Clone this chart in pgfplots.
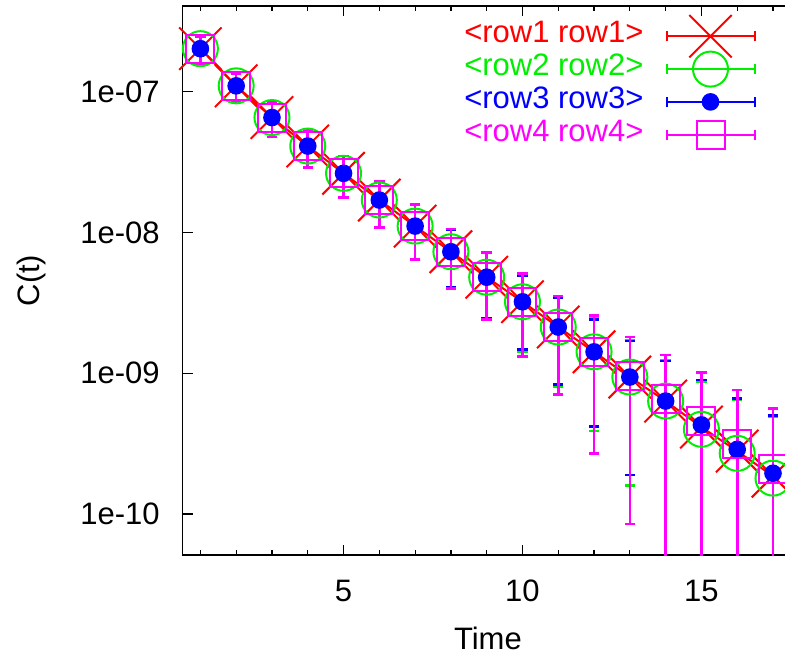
\documentclass[border=0pt]{standalone}
\usepackage{fontspec}
\setmainfont{Liberation Sans}
\usepackage{pgfplots}
\pgfplotsset{compat=1.18}
\usepackage{pgfplotstable}

\definecolor{gred}{RGB}{255,0,0}
\definecolor{ggreen}{RGB}{0,238,0}
\definecolor{gblue}{RGB}{0,0,255}
\definecolor{gmag}{RGB}{255,0,255}

\pgfplotstableread{
x y ep em
1 2.02e-7 4.3e-8 4.3e-8
2 1.10e-7 2.5e-8 2.5e-8
3 6.55e-8 1.8e-8 1.8e-8
4 4.11e-8 1.23e-8 1.23e-8
5 2.63e-8 8.6e-9 8.6e-9
6 1.70e-8 6.1e-9 6.1e-9
7 1.11e-8 4.7e-9 4.7e-9
8 7.30e-9 3.2e-9 3.2e-9
9 4.81e-9 2.35e-9 2.35e-9
10 3.22e-9 1.8e-9 1.8e-9
11 2.13e-9 1.33e-9 1.33e-9
12 1.42e-9 1.03e-9 1.03e-9
13 9.4e-10 7.8e-10 7.8e-10
14 6.35e-10 6.0e-10 6.0e-10
15 4.15e-10 4.7e-10 4.05e-10
16 2.80e-10 3.8e-10 2.70e-10
17 1.86e-10 3.1e-10 1.76e-10
}\rowone

\pgfplotstableread{
x y ep em
1 2.02e-7 4.3e-8 4.3e-8
2 1.10e-7 2.5e-8 2.5e-8
3 6.55e-8 1.8e-8 1.8e-8
4 4.11e-8 1.23e-8 1.23e-8
5 2.63e-8 8.6e-9 8.6e-9
6 1.70e-8 6.1e-9 6.1e-9
7 1.11e-8 4.7e-9 4.7e-9
8 7.30e-9 3.2e-9 3.2e-9
9 4.81e-9 2.35e-9 2.35e-9
10 3.22e-9 1.8e-9 1.8e-9
11 2.13e-9 1.33e-9 1.33e-9
12 1.42e-9 1.03e-9 1.03e-9
13 9.4e-10 7.8e-10 7.8e-10
14 6.35e-10 6.0e-10 6.0e-10
15 4.00e-10 4.7e-10 3.90e-10
16 2.70e-10 3.8e-10 2.60e-10
17 1.80e-10 3.12e-10 1.70e-10
}\rowtwo

\pgfplotstableread{
x y ep em
1 2.02e-7 4.3e-8 4.3e-8
2 1.10e-7 2.5e-8 2.5e-8
3 6.55e-8 1.8e-8 1.8e-8
4 4.11e-8 1.23e-8 1.23e-8
5 2.63e-8 8.6e-9 8.6e-9
6 1.70e-8 6.1e-9 6.1e-9
7 1.11e-8 4.7e-9 4.7e-9
8 7.30e-9 3.2e-9 3.2e-9
9 4.81e-9 2.35e-9 2.35e-9
10 3.22e-9 1.75e-9 1.75e-9
11 2.13e-9 1.30e-9 1.30e-9
12 1.42e-9 1.00e-9 1.00e-9
13 9.4e-10 7.5e-10 7.5e-10
14 6.35e-10 5.9e-10 5.9e-10
15 4.30e-10 4.65e-10 4.20e-10
16 2.88e-10 3.76e-10 2.78e-10
17 1.95e-10 3.05e-10 1.85e-10
}\rowthree

\pgfplotstableread{
x y ep em
1 2.02e-7 4.3e-8 4.3e-8
2 1.10e-7 2.5e-8 2.5e-8
3 6.55e-8 1.8e-8 1.8e-8
4 4.11e-8 1.23e-8 1.23e-8
5 2.63e-8 8.6e-9 8.6e-9
6 1.70e-8 6.1e-9 6.1e-9
7 1.11e-8 4.7e-9 4.7e-9
8 7.30e-9 3.3e-9 3.3e-9
9 4.81e-9 2.4e-9 2.4e-9
10 3.22e-9 1.9e-9 1.9e-9
11 2.13e-9 1.42e-9 1.42e-9
12 1.42e-9 1.15e-9 1.15e-9
13 9.5e-10 8.65e-10 8.65e-10
14 6.58e-10 6.9e-10 6.48e-10
15 4.60e-10 5.56e-10 4.50e-10
16 3.15e-10 4.45e-10 3.05e-10
17 2.09e-10 3.55e-10 1.99e-10
}\rowfour

\pgfplotsset{
  errleg/.style={legend image code/.code={
    \draw[##1,mark=none,line width=1pt] (0pt,0pt) -- (44pt,0pt)
      (0pt,-2.5pt) -- (0pt,2.5pt) (44pt,-2.5pt) -- (44pt,2.5pt);
    \draw[overlay,##1] plot coordinates {(22pt,0pt)};
  }},
  myerr/.style={error bars/.cd, y dir=both, y explicit,
    error bar style={line width=1.3pt},
    error mark=-, error mark options={rotate=90, mark size=2.6pt, line width=1.3pt},
    /pgfplots/.cd},
}

\begin{document}
\fontsize{15.5}{18.6}\selectfont
\begin{tikzpicture}
\begin{axis}[
  anchor=south west, at={(0,0)},
  scale only axis, width=302.4pt, height=274.5pt,
  xmin=0.5, xmax=17.4,
  ymode=log, ymin=5.12e-11, ymax=4.06e-7,
  xtick={5,10,15}, xticklabels={5,10,15},
  minor xtick={1,...,17},
  ytick={1e-10,1e-9,1e-8,1e-7}, yticklabels={1e-10,1e-09,1e-08,1e-07},
  yminorticks=false,
  ytick pos=left, xtick pos=both,
  tick align=inside,
  major tick length=5pt, minor tick length=2.5pt,
  every tick/.style={black, line width=0.6pt},
  axis line style={line width=0.8pt},
  xticklabel style={anchor=base, inner sep=0pt, yshift=-23pt},
  yticklabel style={anchor=base east, inner sep=0pt, xshift=-11.25pt, yshift=-5.3pt},
  /pgf/number format/assume math mode=true,
  every axis x label/.style={at={(axis description cs:0.505,-0.1730)}, anchor=base, inner sep=0pt},
  every axis y label/.style={at={(axis description cs:-0.2505,0.5)}, rotate=90, anchor=center, inner sep=0pt},
  xlabel={Time}, ylabel={C(t)},
  legend cell align=right,
  legend plot pos=right,
  legend style={at={(axis description cs:0,1)}, anchor=north east,
    xshift=286.5pt, yshift=-6.95pt, draw=none, fill=none,
    inner sep=0pt, outer sep=0pt, column sep=11pt, row sep=0pt,
    nodes={inner sep=0pt, text height=11.4pt, text depth=5pt}},
]
\addplot[gred, line width=1pt, mark=x, mark size=15pt, mark options={line width=1pt}, errleg, myerr]
  table[x=x, y=y, y error plus=ep, y error minus=em] {\rowone};
\addlegendentry{\textcolor{gred}{<row1 row1>}}
\addplot[ggreen, only marks, line width=1pt, mark=o, mark size=8.75pt, mark options={line width=1pt}, errleg, myerr]
  table[x=x, y=y, y error plus=ep, y error minus=em] {\rowtwo};
\addlegendentry{\textcolor{ggreen}{<row2 row2>}}
\addplot[gblue, only marks, line width=1pt, mark=*, mark size=3.9pt, mark options={fill=gblue}, errleg, myerr]
  table[x=x, y=y, y error plus=ep, y error minus=em] {\rowthree};
\addlegendentry{\textcolor{gblue}{<row3 row3>}}
\addplot[gmag, only marks, line width=1pt, mark=square, mark size=7pt, mark options={line width=1pt}, errleg, myerr]
  table[x=x, y=y, y error plus=ep, y error minus=em] {\rowfour};
\addlegendentry{\textcolor{gmag}{<row4 row4>}}
\end{axis}
\pgfresetboundingbox
\path[use as bounding box] (-91.25pt,-50.5pt) rectangle (301.25pt,277.5pt);
\end{tikzpicture}
\end{document}
